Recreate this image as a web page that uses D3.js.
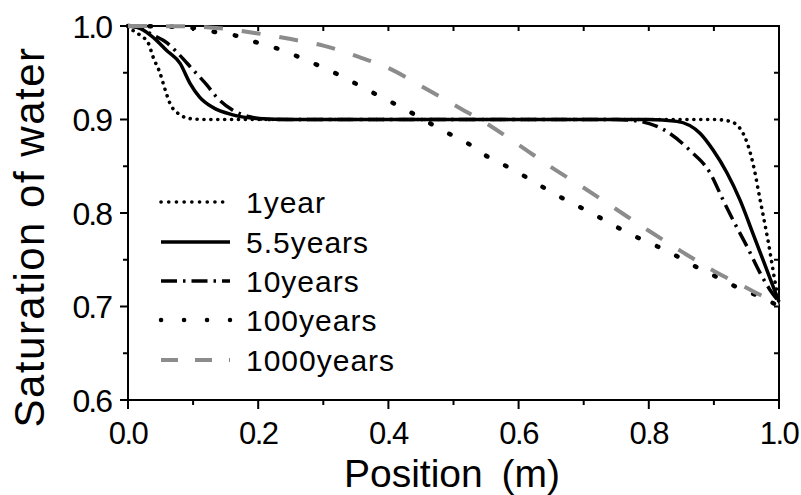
<!DOCTYPE html>
<html><head><meta charset="utf-8">
<script src="https://cdn.jsdelivr.net/npm/d3@7/dist/d3.min.js"></script>
<style>body{margin:0;background:#fff}svg{display:block}text{font-family:"Liberation Sans",Arial,sans-serif;fill:#000}</style>
</head><body><svg id="c" width="801" height="495"></svg>
<script>
// ---- data ----
const seriesNames = ["1year", "5.5years", "10years", "100years", "1000years"];
const x1 = [0, 0.008, 0.021, 0.031, 0.039, 0.049, 0.057, 0.064, 0.08, 0.095, 0.12, 0.2, 0.4, 0.6, 0.8, 0.9, 0.925, 0.945, 0.96, 0.971, 0.983, 0.997, 1.0];
const y1 = [1.0, 0.995, 0.989, 0.982, 0.966, 0.95, 0.932, 0.918, 0.905, 0.901, 0.9, 0.9, 0.9, 0.9, 0.9, 0.9, 0.898, 0.885, 0.853, 0.814, 0.771, 0.715, 0.705];
const x55 = [0, 0.02, 0.04, 0.059, 0.08, 0.095, 0.11, 0.13, 0.161, 0.2, 0.25, 0.5, 0.8, 0.843, 0.879, 0.899, 0.92, 0.94, 0.96, 0.989, 1.0];
const y55 = [1.0, 0.997, 0.987, 0.974, 0.96, 0.939, 0.924, 0.913, 0.905, 0.901, 0.9, 0.9, 0.9, 0.898, 0.885, 0.867, 0.843, 0.814, 0.778, 0.725, 0.705];
const x10 = [0, 0.02, 0.034, 0.06, 0.075, 0.1, 0.121, 0.136, 0.161, 0.187, 0.22, 0.5, 0.75, 0.786, 0.828, 0.863, 0.894, 0.914, 0.929, 0.951, 0.974, 0.986, 1.0];
const y10 = [1.0, 0.998, 0.992, 0.982, 0.972, 0.953, 0.937, 0.924, 0.91, 0.903, 0.9, 0.9, 0.9, 0.898, 0.887, 0.867, 0.843, 0.814, 0.793, 0.764, 0.732, 0.718, 0.705];
const x100 = [0, 0.05, 0.098, 0.131, 0.164, 0.195, 0.229, 0.262, 0.295, 0.326, 0.359, 0.392, 0.423, 0.456, 0.49, 0.523, 0.553, 0.587, 0.62, 0.651, 0.684, 0.717, 0.751, 0.782, 0.814, 0.848, 0.879, 0.912, 0.943, 0.976, 1.0];
const y100 = [1.0, 0.9995, 0.998, 0.994, 0.99, 0.983, 0.976, 0.967, 0.957, 0.947, 0.935, 0.923, 0.912, 0.899, 0.886, 0.874, 0.86, 0.848, 0.835, 0.822, 0.81, 0.798, 0.785, 0.774, 0.764, 0.752, 0.74, 0.729, 0.718, 0.709, 0.70];
const x1000 = [0, 0.1, 0.15, 0.2, 0.25, 0.3, 0.35, 0.4, 0.45, 0.5, 0.55, 0.6, 0.65, 0.7, 0.75, 0.8, 0.85, 0.9, 0.95, 1.0];
const y1000 = [1.0, 0.9995, 0.997, 0.992, 0.986, 0.979, 0.968, 0.955, 0.936, 0.916, 0.896, 0.873, 0.849, 0.827, 0.804, 0.781, 0.759, 0.738, 0.72, 0.702];
const xTicks = [0.0, 0.2, 0.4, 0.6, 0.8, 1.0];
const yTicks = [0.6, 0.7, 0.8, 0.9, 1.0];
const xMinor = [0.1, 0.3, 0.5, 0.7, 0.9];
const yMinor = [0.65, 0.75, 0.85, 0.95];

const svg = d3.select("#c");
const L = 128, R = 779, T = 26, B = 400;
const x = d3.scaleLinear().domain([0, 1]).range([L, R]);
const y = d3.scaleLinear().domain([0.6, 1.0]).range([B, T]);

const styles = [
  {w: 3.6, dash: "0.1,6.8", cap: "round", color: "#000", ldash: "0.1,7.6"},
  {w: 3.5, dash: null, cap: "butt", color: "#000", ldash: null},
  {w: 3.5, dash: "16,6,2.5,6", cap: "butt", color: "#000", ldash: "16,6,2.5,6"},
  {w: 4.5, dash: "1.5,20", cap: "round", color: "#000", ldash: "0.1,22.9"},
  {w: 4, dash: "19,19", cap: "butt", color: "#8c8c8c", ldash: "17,17"}
];
const data = [[x1, y1], [x55, y55], [x10, y10], [x100, y100], [x1000, y1000]];

const line = d3.line().x(d => x(d[0])).y(d => y(d[1])).curve(d3.curveMonotoneX);

// frame
svg.append("rect").attr("x", L).attr("y", T).attr("width", R - L).attr("height", B - T)
  .attr("fill", "none").attr("stroke", "#000").attr("stroke-width", 2);

// ticks
const tk = svg.append("g").attr("stroke", "#000").attr("stroke-width", 2);
xTicks.forEach(v => tk.append("line").attr("x1", x(v)).attr("x2", x(v)).attr("y1", B).attr("y2", B + 9));
xMinor.forEach(v => tk.append("line").attr("x1", x(v)).attr("x2", x(v)).attr("y1", B).attr("y2", B + 5));
xTicks.concat(xMinor).forEach(v => tk.append("line").attr("x1", x(v)).attr("x2", x(v)).attr("y1", T).attr("y2", T + 5));
yTicks.forEach(v => tk.append("line").attr("x1", L - 8).attr("x2", L).attr("y1", y(v)).attr("y2", y(v)));
yMinor.forEach(v => tk.append("line").attr("x1", L - 5).attr("x2", L).attr("y1", y(v)).attr("y2", y(v)));
yTicks.concat(yMinor).forEach(v => tk.append("line").attr("x1", R - 5).attr("x2", R).attr("y1", y(v)).attr("y2", y(v)));

// tick labels
xTicks.forEach(v => svg.append("text").attr("x", x(v)).attr("y", 444).attr("text-anchor", "middle")
  .attr("font-size", 31).attr("letter-spacing", -1.5).text(d3.format(".1f")(v)));
yTicks.forEach(v => svg.append("text").attr("x", 111).attr("y", y(v) + 11.5).attr("text-anchor", "end")
  .attr("font-size", 32).attr("letter-spacing", -2).text(d3.format(".1f")(v)));

// axis titles
svg.append("text").attr("x", 452).attr("y", 487).attr("text-anchor", "middle")
  .attr("font-size", 39).attr("word-spacing", 8).text("Position (m)");
svg.append("text").attr("transform", "translate(44,237) rotate(-90)").attr("text-anchor", "middle")
  .attr("font-size", 42).attr("letter-spacing", 1.5).text("Saturation of water");

// curves
data.forEach((d, i) => {
  const pts = d[0].map((v, j) => [v, d[1][j]]);
  const s = styles[i];
  svg.append("path").datum(pts).attr("d", line).attr("fill", "none")
    .attr("stroke", s.color).attr("stroke-width", s.w).attr("stroke-linecap", s.cap)
    .attr("stroke-dasharray", s.dash);
});

// legend
const legY = [202, 242, 281, 320, 360];
seriesNames.forEach((n, i) => {
  const s = styles[i];
  svg.append("line").attr("x1", 161).attr("x2", 230).attr("y1", legY[i]).attr("y2", legY[i])
    .attr("stroke", s.color).attr("stroke-width", s.w).attr("stroke-linecap", s.cap)
    .attr("stroke-dasharray", s.ldash);
  svg.append("text").attr("x", 246).attr("y", legY[i] + 10.5).attr("font-size", 30)
    .attr("letter-spacing", 1).text(n);
});
</script></body></html>
